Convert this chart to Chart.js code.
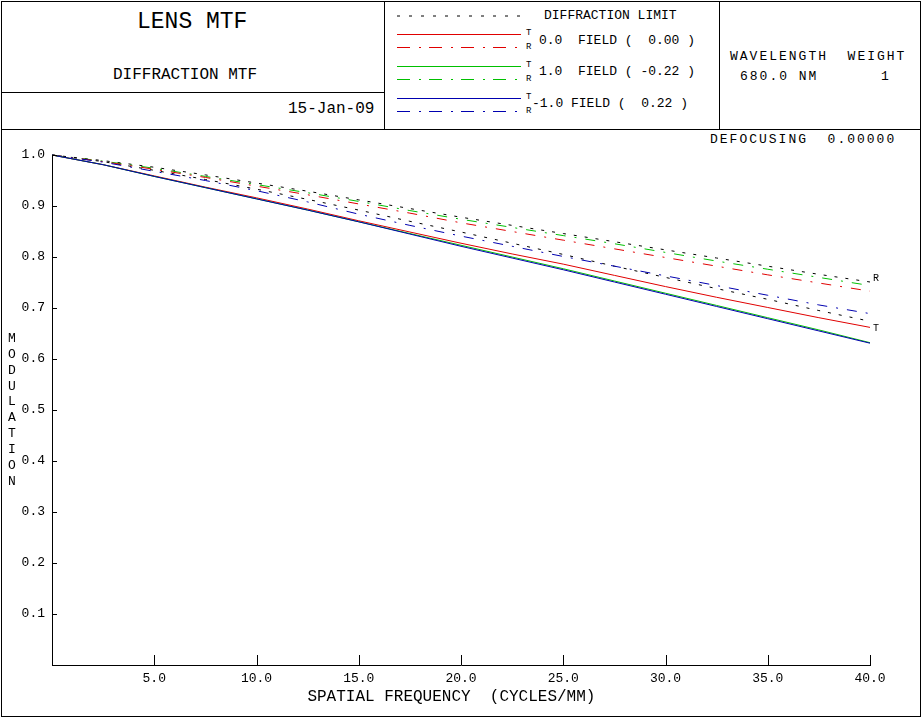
<!DOCTYPE html>
<html><head><meta charset="utf-8">
<script src="https://cdn.jsdelivr.net/npm/chart.js@4.4.0/dist/chart.umd.min.js"></script>
<style>
html,body{margin:0;padding:0;background:#fff;}
#wrap{position:relative;width:923px;height:719px;overflow:hidden;font-family:'Liberation Mono','DejaVu Sans Mono',monospace;color:#000;background:#fff;}
.t{position:absolute;white-space:pre;line-height:1;}
.ln{position:absolute;background:#000;}
#box{position:absolute;left:1px;top:1px;width:920px;height:716px;border:1px solid #000;box-sizing:border-box;}
canvas{position:absolute;left:2px;top:130px;}
svg{position:absolute;left:0;top:0;}
</style></head><body>
<div id="wrap">
  <div id="box"></div>
  <div class="ln" style="left:1px;top:129px;width:920px;height:1px"></div>
  <div class="ln" style="left:1px;top:92px;width:384px;height:1px"></div>
  <div class="ln" style="left:384px;top:1px;width:1px;height:129px"></div>
  <div class="ln" style="left:719px;top:1px;width:1px;height:129px"></div>

  <div class="t" style="left:137px;top:11px;font-size:23px">LENS MTF</div>
  <div class="t" style="left:113px;top:67px;font-size:16px">DIFFRACTION MTF</div>
  <div class="t" style="left:288px;top:101px;font-size:16px">15-Jan-09</div>

  <svg width="923" height="130">
    <line x1="397" y1="16" x2="521" y2="16" stroke="#000" stroke-width="1" stroke-dasharray="3 9"/>
    <line x1="397" y1="34.5" x2="521" y2="34.5" stroke="#e00000" stroke-width="1"/>
    <line x1="397" y1="47.5" x2="521" y2="47.5" stroke="#e00000" stroke-width="1" stroke-dasharray="13 9 2 8"/>
    <line x1="397" y1="66.5" x2="521" y2="66.5" stroke="#00c000" stroke-width="1"/>
    <line x1="397" y1="79.5" x2="521" y2="79.5" stroke="#00c000" stroke-width="1" stroke-dasharray="13 9 2 8"/>
    <line x1="397" y1="98.5" x2="521" y2="98.5" stroke="#0000b0" stroke-width="1"/>
    <line x1="397" y1="111.5" x2="521" y2="111.5" stroke="#0000b0" stroke-width="1" stroke-dasharray="13 9 2 8"/>
  </svg>
  <div class="t" style="left:544px;top:9px;font-size:13px">DIFFRACTION LIMIT</div>
  <div class="t" style="left:526px;top:29px;font-size:9px">T</div>
  <div class="t" style="left:526px;top:43px;font-size:9px">R</div>
  <div class="t" style="left:526px;top:61px;font-size:9px">T</div>
  <div class="t" style="left:526px;top:75px;font-size:9px">R</div>
  <div class="t" style="left:526px;top:93px;font-size:9px">T</div>
  <div class="t" style="left:526px;top:107px;font-size:9px">R</div>
  <div class="t" style="left:539px;top:34px;font-size:13px">0.0  FIELD (  0.00 )</div>
  <div class="t" style="left:539px;top:65px;font-size:13px">1.0  FIELD ( -0.22 )</div>
  <div class="t" style="left:532px;top:97px;font-size:13px">-1.0 FIELD (  0.22 )</div>

  <div class="t" style="left:730px;top:50px;font-size:13px;letter-spacing:2px">WAVELENGTH  WEIGHT</div>
  <div class="t" style="left:740px;top:70px;font-size:13px;letter-spacing:2px">680.0 NM</div>
  <div class="t" style="left:881px;top:70px;font-size:13px">1</div>
  <div class="t" style="left:710px;top:133px;font-size:13px;letter-spacing:2px">DEFOCUSING  0.00000</div>

  <canvas id="c" width="918" height="585"></canvas>
</div>
<script>
// ---- data ----
const freq = [0, 2.5, 5, 7.5, 10, 12.5, 15, 17.5, 20, 22.5, 25, 27.5, 30, 32.5, 35, 37.5, 40];
const diffLimitR = [1.000, 0.989, 0.976, 0.961, 0.945, 0.929, 0.912, 0.895, 0.878, 0.862, 0.846, 0.830, 0.814, 0.798, 0.782, 0.766, 0.751];
const diffLimitT = [1.000, 0.987, 0.970, 0.952, 0.933, 0.913, 0.892, 0.870, 0.849, 0.827, 0.805, 0.782, 0.760, 0.738, 0.717, 0.695, 0.674];
const field00T  = [1.000, 0.981, 0.959, 0.937, 0.916, 0.894, 0.871, 0.849, 0.827, 0.806, 0.786, 0.764, 0.742, 0.721, 0.701, 0.681, 0.662];
const field00R  = [1.000, 0.987, 0.972, 0.956, 0.939, 0.922, 0.904, 0.886, 0.867, 0.850, 0.833, 0.816, 0.799, 0.782, 0.765, 0.749, 0.733];
const field10T  = [1.000, 0.981, 0.958, 0.936, 0.914, 0.892, 0.869, 0.846, 0.823, 0.800, 0.777, 0.753, 0.729, 0.705, 0.681, 0.657, 0.632];
const field10R  = [1.000, 0.988, 0.974, 0.958, 0.942, 0.926, 0.909, 0.891, 0.874, 0.858, 0.842, 0.826, 0.809, 0.792, 0.776, 0.760, 0.744];
const fieldM10T = [1.000, 0.981, 0.958, 0.936, 0.914, 0.892, 0.869, 0.845, 0.821, 0.798, 0.775, 0.751, 0.727, 0.703, 0.679, 0.655, 0.631];
const fieldM10R = [1.000, 0.986, 0.968, 0.950, 0.930, 0.908, 0.884, 0.862, 0.841, 0.821, 0.801, 0.782, 0.763, 0.744, 0.725, 0.706, 0.689];
const xTickValues = [5, 10, 15, 20, 25, 30, 35, 40];
const yTickValues = [0.1, 0.2, 0.3, 0.4, 0.5, 0.6, 0.7, 0.8, 0.9, 1.0];
const xTitle = 'SPATIAL FREQUENCY  (CYCLES/MM)  ';
const yTitle = 'MODULATION';

const RED = '#e00000', GREEN = '#00c000', BLUE = '#0000b0';
const DASHDOT = [10, 9, 2, 9];
const DOTS = [3, 8];
const pts = arr => arr.map((v, i) => ({x: freq[i], y: v}));
const ds = (label, arr, color, dash) => ({
  label, data: pts(arr), borderColor: color, borderWidth: 1, borderDash: dash || [],
  pointRadius: 0, tension: 0, fill: false
});

const font = "'Liberation Mono', 'DejaVu Sans Mono', monospace";

const extras = {
  id: 'extras',
  afterDraw(chart) {
    const {ctx, chartArea, scales: {x, y}} = chart;
    ctx.save();
    ctx.strokeStyle = '#000';
    ctx.lineWidth = 1;
    ctx.beginPath();
    x.ticks.forEach(t => {
      const px = Math.round(x.getPixelForValue(t.value)) + 0.5;
      ctx.moveTo(px, chartArea.bottom); ctx.lineTo(px, chartArea.bottom - 10);
    });
    y.ticks.forEach(t => {
      const py = Math.round(y.getPixelForValue(t.value)) + 0.5;
      ctx.moveTo(chartArea.left, py); ctx.lineTo(chartArea.left + 5, py);
    });
    ctx.stroke();
    // vertical y title
    ctx.fillStyle = '#000';
    ctx.font = '13px ' + font;
    ctx.textAlign = 'center';
    ctx.textBaseline = 'middle';
    const mid = (chartArea.top + chartArea.bottom) / 2;
    const step = 15.9;
    for (let i = 0; i < yTitle.length; i++) {
      ctx.fillText(yTitle[i], 10, mid + (i - (yTitle.length - 1) / 2) * step);
    }
    // end labels
    ctx.font = '10px ' + font;
    ctx.textAlign = 'left';
    const xe = x.getPixelForValue(freq[freq.length - 1]) + 3;
    ctx.fillText('R', xe, y.getPixelForValue(diffLimitR[diffLimitR.length - 1]) - 4);
    ctx.fillText('T', xe, y.getPixelForValue(field00T[field00T.length - 1]) + 1);
    ctx.restore();
  }
};

new Chart(document.getElementById('c'), {
  type: 'line',
  data: {
    datasets: [
      ds('-1.0 T', fieldM10T, BLUE),
      ds('1.0 T', field10T, GREEN),
      ds('0.0 T', field00T, RED),
      ds('-1.0 R', fieldM10R, BLUE, DASHDOT),
      ds('0.0 R', field00R, RED, DASHDOT),
      ds('1.0 R', field10R, GREEN, DASHDOT),
      ds('Diffraction T', diffLimitT, '#000', DOTS),
      ds('Diffraction R', diffLimitR, '#000', DOTS)
    ]
  },
  options: {
    responsive: false,
    animation: false,
    devicePixelRatio: 1,
    layout: {padding: {top: 25, right: 50, left: 0, bottom: 0}},
    plugins: {legend: {display: false}, tooltip: {enabled: false}},
    elements: {line: {borderCapStyle: 'butt'}},
    clip: false,
    scales: {
      x: {
        type: 'linear', min: 0, max: 40,
        afterFit: s => { s.height = 50; },
        afterBuildTicks: s => { s.ticks = xTickValues.map(v => ({value: v})); },
        grid: {drawOnChartArea: false, drawTicks: false},
        border: {display: true, color: '#000', width: 1},
        ticks: {color: '#000', font: {family: font, size: 13}, padding: 6, maxRotation: 0,
                callback: v => Number(v).toFixed(1)},
        title: {display: true, text: xTitle, color: '#000', font: {family: font, size: 16},
                padding: {top: 0, bottom: 9}}
      },
      y: {
        type: 'linear', min: 0, max: 1.0,
        afterFit: s => { s.width = 50; },
        afterBuildTicks: s => { s.ticks = yTickValues.map(v => ({value: v})); },
        grid: {drawOnChartArea: false, drawTicks: false},
        border: {display: true, color: '#000', width: 1},
        ticks: {color: '#000', font: {family: font, size: 13}, padding: 7,
                callback: v => Number(v).toFixed(1)}
      }
    }
  },
  plugins: [extras]
});
</script>
</body></html>
